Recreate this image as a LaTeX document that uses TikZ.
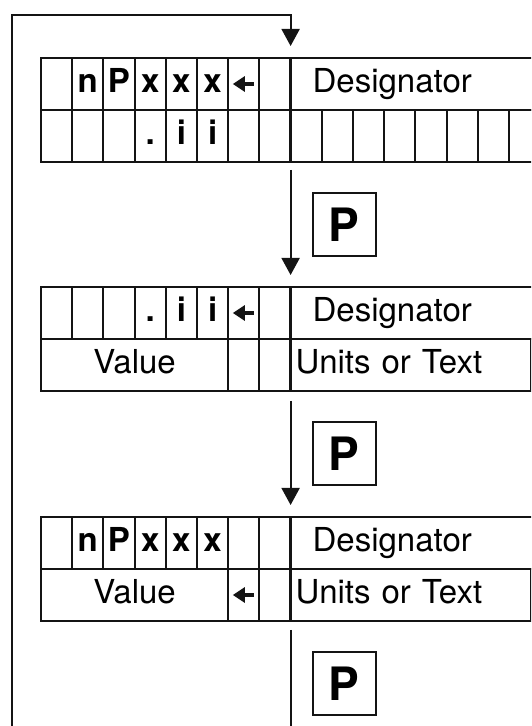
\documentclass[tikz,border=0pt]{standalone}
\usepackage{fontspec}
\setmainfont{TeX Gyre Heros}
\usetikzlibrary{arrows.meta, positioning, calc}
\definecolor{ink}{RGB}{20,20,20}
\tikzset{
  cellbox/.style={rectangle, draw=ink, line width=2pt, outer sep=0pt,
                  minimum width=31.2pt, minimum height=52pt, inner sep=0pt,
                  text height=23pt, text depth=6pt,
                  font=\fontsize{33}{38}\selectfont\bfseries},
  fieldbox/.style={rectangle, draw=ink, line width=2pt, outer sep=0pt,
                   minimum height=52pt, inner xsep=#1, inner ysep=0pt,
                   text width=230pt, align=left, anchor=west,
                   text height=23pt, text depth=6pt,
                   font=\fontsize{33}{38}\selectfont},
  keybox/.style={rectangle, draw=ink, line width=2pt, minimum size=63pt,
                 inner sep=0pt, font=\fontsize{46}{52}\selectfont\bfseries},
  arrowstyle/.style={-{Triangle[length=17pt, width=18pt]}, line width=2pt, color=ink},
  linestyle/.style={line width=2pt, color=ink},
  divider/.style={line width=3pt, color=ink},
  backarrow/.style={-{Triangle[length=12pt, width=15pt]}, line width=3.5pt, color=ink},
}

\begin{document}
\begin{tikzpicture}[x=1pt, y=1pt]
  \useasboundingbox (0,0) rectangle (531,726);
  \clip (0,0) rectangle (531,726);

  % display 1: number and index
  \foreach \t [count=\i] in {{},n,P,x,x,x,{},{}}
    \node[cellbox] (a\i) at ({25.4+31.2*\i}, 642) {\t};
  \node[fieldbox=22pt] (adesig) at (a8.east) {Designator};
  \foreach \t [count=\i] in {{},{},{},.,i,i,{},{},{},{},{},{},{},{},{},{}}
    \node[cellbox] (b\i) at ({25.4+31.2*\i}, 590) {\t};
  \draw[backarrow] ([xshift=10pt]a7.center) -- ([xshift=-11pt]a7.center);
  \draw[divider] (a8.north east) -- (b8.south east);

  % display 2: index and value
  \foreach \t [count=\i] in {{},{},{},.,i,i,{},{}}
    \node[cellbox] (c\i) at ({25.4+31.2*\i}, 413) {\t};
  \node[fieldbox=22pt] (cdesig) at (c8.east) {Designator};
  \node[cellbox, minimum width=187.2pt, font=\fontsize{33}{38}\selectfont] (dvalue) at (134.6, 361) {Value};
  \node[cellbox, right=0pt of dvalue] (d7) {};
  \node[cellbox, right=0pt of d7] (d8) {};
  \node[fieldbox=5pt] (dunits) at (d8.east) {Units or Text};
  \draw[backarrow] ([xshift=10pt]c7.center) -- ([xshift=-11pt]c7.center);
  \draw[divider] (c8.north east) -- (d8.south east);

  % display 3: number and value
  \foreach \t [count=\i] in {{},n,P,x,x,x,{},{}}
    \node[cellbox] (e\i) at ({25.4+31.2*\i}, 183) {\t};
  \node[fieldbox=22pt] (edesig) at (e8.east) {Designator};
  \node[cellbox, minimum width=187.2pt, font=\fontsize{33}{38}\selectfont] (fvalue) at (134.6, 131) {Value};
  \node[cellbox, right=0pt of fvalue] (f7) {};
  \node[cellbox, right=0pt of f7] (f8) {};
  \node[fieldbox=5pt] (funits) at (f8.east) {Units or Text};
  \draw[backarrow] ([xshift=10pt]f7.center) -- ([xshift=-11pt]f7.center);
  \draw[divider] (e8.north east) -- (f8.south east);

  % P keys
  \node[keybox, below right=30pt and 21pt of b8.south east] (key1) {P};
  \node[keybox, below right=30pt and 21pt of d8.south east] (key2) {P};
  \node[keybox, below right=30pt and 21pt of f8.south east] (key3) {P};

  % flow
  \coordinate (loopfoot) at (12,0);
  \coordinate (looptop) at (12,711);
  \coordinate (exitfoot) at (f8.south east |- loopfoot);
  \draw[arrowstyle, shorten >=12pt] (loopfoot) -- (looptop) -| (a8.north east);
  \draw[arrowstyle, shorten <=8pt, shorten >=12pt] (b8.south east) -- (c8.north east);
  \draw[arrowstyle, shorten <=10pt, shorten >=12pt] (d8.south east) -- (e8.north east);
  \draw[linestyle, shorten <=9pt] (f8.south east) -- (exitfoot);
\end{tikzpicture}
\end{document}
